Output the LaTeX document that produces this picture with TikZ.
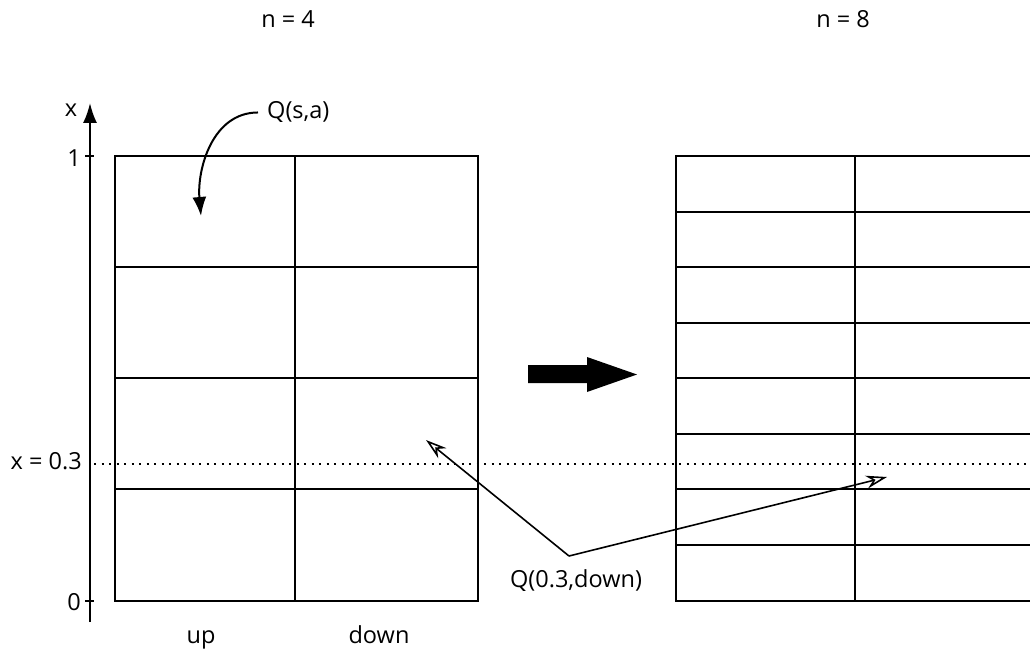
\documentclass[tikz,border=0pt]{standalone}
\usepackage{fontspec}
\setmainfont{Open Sans}
\usetikzlibrary{arrows.meta, positioning, calc}

\begin{document}
\begin{tikzpicture}[
  x=1pt, y=-1pt,
  grid/.style={line width=2pt},
  lbl/.style={anchor=base, inner sep=0pt, font=\fontsize{23.5}{28}\selectfont},
  pointer/.style={line width=1.6pt, -{Stealth[open, length=21pt, width=13pt]}},
  bent/.style={line width=2pt, -{Latex[length=19pt, width=14pt]}}
]
  \useasboundingbox (0,0) rectangle (1030,650);

  % left table, n = 4
  \draw[grid] (115,156) rectangle (478,601);
  \draw[grid] (295,156) -- (295,601);
  \foreach \y in {267,378,489}
    \draw[grid] (115,\y) -- (478,\y);

  % right table, n = 8 (runs off the right edge)
  \draw[grid] (1030,156) -- (676,156) -- (676,601) -- (1030,601);
  \draw[grid] (855,156) -- (855,601);
  \foreach \y in {212,267,323,378,434,489,545}
    \draw[grid] (676,\y) -- (1030,\y);

  % axis
  \coordinate (abot) at (90,622);
  \coordinate (atop) at (90,103);
  \draw[grid, -{Latex[length=20pt, width=14pt]}] (abot) -- (atop);
  \draw[grid] (85,156) -- (94,156);
  \draw[grid] (85,601) -- (94,601);

  \node[lbl] (xlab) at (71,117) {x};
  \node[lbl] (one)  at (74,166) {1};
  \node[lbl] (zero) at (74,610) {0};
  \node[lbl, anchor=base east] (xval) at (82,469) {x = 0.3};

  % x = 0.3 cut
  \coordinate (cutl) at (94,464);
  \coordinate (cutr) at (1030,464);
  \draw[line width=2pt, dash pattern=on 2pt off 5.5pt] (cutl) -- (cutr);

  \node[lbl] (nfour)  at (288,28) {n = 4};
  \node[lbl] (neight) at (843,28) {n = 8};
  \node[lbl] (up)     at (201,643) {up};
  \node[lbl] (down)   at (379,643) {down};
  \node[lbl, anchor=base west] (qsa) at (267,119) {Q(s,a)};
  \node[lbl] (qdown)  at (576,587) {Q(0.3,down)};

  % pointers
  \coordinate (cell)  at (201,216);
  \coordinate (apex)  at (569,556);
  \coordinate (cella) at (426,440);
  \coordinate (cellb) at (887,477);
  \draw[bent] ([xshift=-9pt]qsa.west) to[out=180, in=95] (cell);
  \draw[pointer] (apex) -- (cella);
  \draw[pointer] (apex) -- (cellb);

  % refine arrow
  \fill (528,365) -- (587,365) -- (587,357) -- (637,374.5)
    -- (587,392) -- (587,383) -- (528,383) -- cycle;
\end{tikzpicture}
\end{document}
